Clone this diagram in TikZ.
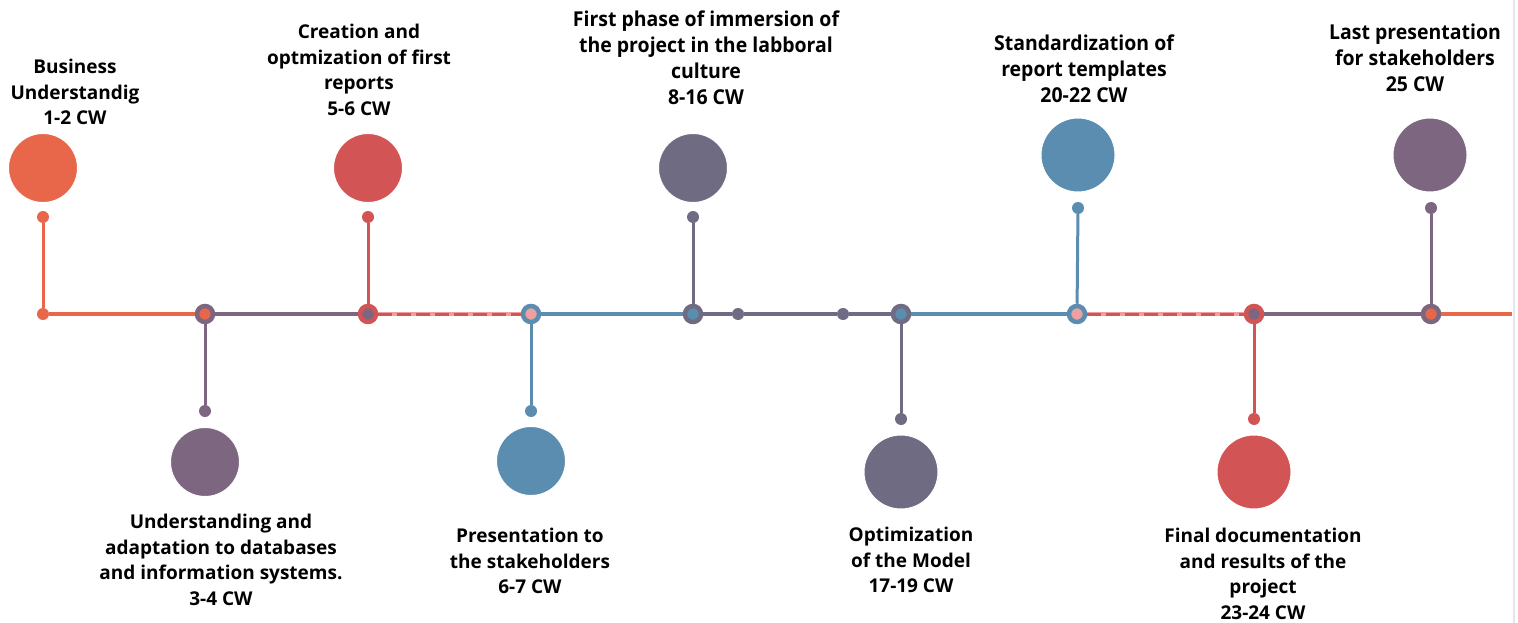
\documentclass[tikz,border=0pt]{standalone}
\usepackage{fontspec}
\setmainfont{Open Sans}
\newfontfamily\narrowfont[FakeStretch=0.95]{Open Sans}
\definecolor{cOrange}{HTML}{E8664A}
\definecolor{cPurple}{HTML}{7D6680}
\definecolor{cRed}{HTML}{D35454}
\definecolor{cBlue}{HTML}{5B8DB0}
\definecolor{cGray}{HTML}{6F6B83}
\definecolor{cPink}{HTML}{EDA0A0}
\definecolor{cEdge}{HTML}{E6E6EC}
\tikzset{
  bigdot/.style={circle, fill=#1, draw=white, line width=1pt, inner sep=0pt, minimum size=69pt},
  bigdotL/.style={bigdot=#1, minimum size=74pt},
  pin/.style={circle, fill=#1, inner sep=0pt, minimum size=12pt},
  hub/.style 2 args={circle, draw=#1, fill=#2, line width=4.5pt, inner sep=0pt, minimum size=16pt},
  stem/.style={draw=#1, line width=3pt},
  seg/.style={draw=#1, line width=4pt},
  faded/.style={draw=cPink, line width=4pt},
  fadedmark/.style={draw=#1, line width=3pt, dash pattern=on 14pt off 5pt},
  label/.style={align=center, anchor=north, inner sep=0pt,
    font=\fontsize{19}{25.6}\selectfont\bfseries},
  labelN/.style={align=center, anchor=north, inner sep=0pt,
    font=\fontsize{20.5}{25.8}\selectfont\narrowfont\bfseries},
}
\begin{document}
\begin{tikzpicture}[x=1pt, y=-1pt]
\useasboundingbox (0,0) rectangle (1518,623);
\fill[white] (0,0) rectangle (1518,623);

% thin frame line at the right edge
\coordinate (edgeT) at (1514,0);
\coordinate (edgeB) at (1514,623);
\draw[cEdge, line width=2.5pt] (edgeT) -- (edgeB);

% milestone circles
\node[bigdot=cOrange] (c1) at (43,168) {};
\node[bigdot=cPurple] (c2) at (205,462) {};
\node[bigdot=cRed]    (c3) at (368,168) {};
\node[bigdot=cBlue]   (c4) at (531,461) {};
\node[bigdot=cGray]   (c5) at (693,168) {};
\node[bigdotL=cGray]  (c6) at (901,472) {};
\node[bigdotL=cBlue]  (c7) at (1078,155) {};
\node[bigdotL=cRed]   (c8) at (1254,472) {};
\node[bigdotL=cPurple](c9) at (1430,155) {};

% stem end dots
\node[pin=cOrange] (p1) at (43,217) {};
\node[pin=cPurple] (p2) at (205,411) {};
\node[pin=cRed]    (p3) at (368,217) {};
\node[pin=cBlue]   (p4) at (531,411) {};
\node[pin=cGray]   (p5) at (693,217) {};
\node[pin=cGray]   (p6) at (901,419) {};
\node[pin=cBlue]   (p7) at (1078,208) {};
\node[pin=cRed]    (p8) at (1254,419) {};
\node[pin=cPurple] (p9) at (1431,208) {};

% hubs on the time axis
\node[pin=cOrange] (h1) at (43,314) {};
\node[hub={cPurple}{cOrange}] (h2) at (205,314) {};
\node[hub={cRed}{cPurple}]    (h3) at (368,314) {};
\node[hub={cBlue}{cPink}]     (h4) at (531,314) {};
\node[hub={cGray}{cBlue}]     (h5) at (693,314) {};
\node[pin=cGray] (m1) at (738,314) {};
\node[pin=cGray] (m2) at (843,314) {};
\node[hub={cGray}{cBlue}]     (h6) at (901,314) {};
\node[hub={cBlue}{cPink}]     (h7) at (1077,314) {};
\node[hub={cRed}{cPurple}]    (h8) at (1254,314) {};
\node[hub={cPurple}{cOrange}] (h9) at (1431,314) {};
\coordinate (axisEnd) at (1512,314);

% time axis
\draw[seg=cOrange] (h1) -- (h2);
\draw[seg=cPurple] (h2) -- (h3);
\draw[faded] (h3) -- (h4);
\draw[fadedmark=cRed] (h3) -- (h4);
\draw[seg=cBlue] (h4) -- (h5);
\draw[seg=cGray] (h5) -- (m1);
\draw[seg=cGray] (m1) -- (m2);
\draw[seg=cGray] (m2) -- (h6);
\draw[seg=cBlue] (h6) -- (h7);
\draw[faded] (h7) -- (h8);
\draw[fadedmark=cRed] (h7) -- (h8);
\draw[seg=cPurple] (h8) -- (h9);
\draw[seg=cOrange] (h9) -- (axisEnd);

% stems
\draw[stem=cOrange] (h1) -- (p1);
\draw[stem=cPurple] (h2) -- (p2);
\draw[stem=cRed]    (h3) -- (p3);
\draw[stem=cBlue]   (h4) -- (p4);
\draw[stem=cGray]   (h5) -- (p5);
\draw[stem=cGray]   (h6) -- (p6);
\draw[stem=cBlue]   (h7) -- (p7);
\draw[stem=cRed]    (h8) -- (p8);
\draw[stem=cPurple] (h9) -- (p9);

% labels above the axis
\node[label] (t1) at (75,59) {Business\\Understandig\\1-2 CW};
\node[label] (t3) at (359,24) {Creation and\\optmization of first\\reports\\5-6 CW};
\node[labelN] (t5) at (706,11) {First phase of immersion of\\the project in the labboral\\culture\\8-16 CW};
\node[labelN] (t7) at (1084,35) {Standardization of\\report templates\\20-22 CW};
\node[labelN] (t9) at (1415,24) {Last presentation\\for stakeholders\\25 CW};

% labels below the axis
\node[label] (t2) at (221,514) {Understanding and\\adaptation to databases\\and information systems.\\3-4 CW};
\node[label] (t4) at (530,528) {Presentation to\\the stakeholders\\6-7 CW};
\node[label] (t6) at (911,527) {Optimization\\of the Model\\17-19 CW};
\node[label] (t8) at (1263,528) {Final documentation\\and results of the\\project\\23-24 CW};
\end{tikzpicture}
\end{document}
